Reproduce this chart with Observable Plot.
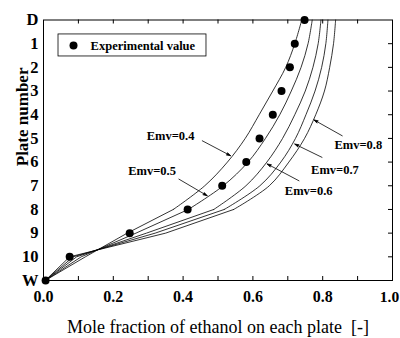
<!DOCTYPE html>
<html><head><meta charset="utf-8">
<script src="https://cdn.jsdelivr.net/npm/d3@7"></script>
<script src="https://cdn.jsdelivr.net/npm/@observablehq/plot@0.6"></script>
<style>body{margin:0;background:#fff}</style>
</head><body><div id="chart"></div>
<script>
// Plates from top (D = distillate) to bottom (W = still)
const plateLabels = ["D","1","2","3","4","5","6","7","8","9","10","W"];
const xTicks = [0, 0.2, 0.4, 0.6, 0.8];
const xLastTick = [1.0];
const xMinorTicks = [0.1,0.2,0.3,0.4,0.5,0.6,0.7,0.8,0.9];
// Experimental mole fraction of ethanol on each plate
const expX = [0.748, 0.72, 0.706, 0.682, 0.657, 0.619, 0.581, 0.512, 0.413, 0.247, 0.075, 0.006];
// Calculated profiles for each Murphree efficiency
const emvValues = [0.4, 0.5, 0.6, 0.7, 0.8];
const emv04 = [0.74, 0.72, 0.694, 0.657, 0.618, 0.578, 0.527, 0.462, 0.372, 0.24, 0.12, 0.005];
const emv05 = [0.77, 0.758, 0.738, 0.71, 0.677, 0.636, 0.586, 0.515, 0.415, 0.265, 0.108, 0.005];
const emv06 = [0.795, 0.787, 0.772, 0.75, 0.72, 0.685, 0.64, 0.58, 0.488, 0.295, 0.095, 0.005];
const emv07 = [0.815, 0.809, 0.797, 0.778, 0.752, 0.722, 0.68, 0.62, 0.518, 0.32, 0.085, 0.005];
const emv08 = [0.837, 0.831, 0.82, 0.805, 0.78, 0.748, 0.703, 0.647, 0.545, 0.35, 0.075, 0.005];
const emvSeries = [emv04, emv05, emv06, emv07, emv08];
// Annotations
const annLabels = ["Emv=0.4","Emv=0.5","Emv=0.6","Emv=0.7","Emv=0.8"];
const annX = [0.364, 0.311, 0.760, 0.835, 0.902];
const annY = [4.89, 6.37, 7.24, 6.34, 5.27];
const arrX1 = [0.455, 0.388, 0.732, 0.798, 0.856];
const arrY1 = [5.10, 6.72, 6.79, 5.80, 4.89];
const arrX2 = [0.536, 0.469, 0.641, 0.720, 0.775];
const arrY2 = [5.73, 7.42, 6.08, 5.24, 4.22];
const legendLabel = "Experimental value";
const xTitle = "Mole fraction of ethanol on each plate\u00a0 [-]";
const yTitle = "Plate number";

const curves = emvValues.flatMap((e, k) => emvSeries[k].map((x, i) => ({emv: e, x, y: i})));
const points = expX.map((x, i) => ({x, y: i}));
const anns = annLabels.map((t, i) => ({t, x: annX[i], y: annY[i], x1: arrX1[i], y1: arrY1[i], x2: arrX2[i], y2: arrY2[i]}));

const W = 400, H = 338, mL = 43, mR = 8, mT = 19.5, mB = 58;
const innerW = W - mL - mR, innerH = H - mT - mB;
const font = "'Liberation Serif', 'Times New Roman', serif";

const chart = Plot.plot({
  width: W, height: H,
  marginLeft: mL, marginRight: mR, marginTop: mT, marginBottom: mB,
  style: {fontFamily: font, background: "white", color: "black"},
  x: {domain: [0, 1]},
  y: {domain: [0, 11], reverse: true},
  marks: [
    Plot.frame({stroke: "black", strokeWidth: 1}),
    Plot.tickX(xMinorTicks, {x: d => d, insetTop: innerH - 4, stroke: "black"}),
    Plot.tickX(xMinorTicks, {x: d => d, insetBottom: innerH - 4, stroke: "black"}),
    Plot.tickY(d3.range(1, 11), {y: d => d, insetLeft: innerW - 4, stroke: "black"}),
    Plot.axisX({ticks: xTicks, tickFormat: d3.format(".1f"), tickSize: 0, tickPadding: 10, fontSize: 16, fontWeight: "bold", label: null}),
    Plot.axisX({ticks: xLastTick, tickFormat: d3.format(".1f"), tickSize: 0, tickPadding: 10, fontSize: 15.5, fontWeight: "bold", dx: -3, label: null}),
    Plot.axisY({ticks: d3.range(12), tickFormat: i => plateLabels[i], tickSize: 0, tickPadding: 5, fontSize: 16.5, fontWeight: "bold", label: null}),
    Plot.text([yTitle], {frameAnchor: "left", rotate: -90, dx: -21, dy: 16, fontSize: 17, fontWeight: "bold"}),
    Plot.text([xTitle], {frameAnchor: "bottom", dy: 52, fontSize: 18}),
    Plot.line(curves.filter(d => d.y <= 8), {x: "x", y: "y", z: "emv", stroke: "black", strokeWidth: 0.8, curve: "catmull-rom"}),
    Plot.line(curves.filter(d => d.y >= 8), {x: "x", y: "y", z: "emv", stroke: "black", strokeWidth: 0.8}),
    Plot.dot(points, {x: "x", y: "y", r: 4, fill: "black"}),
    Plot.arrow(anns, {x1: "x1", y1: "y1", x2: "x2", y2: "y2", stroke: "black", fill: "black", strokeWidth: 0.8, headLength: 8, headAngle: 35}),
    Plot.text(anns, {x: "x", y: "y", text: "t", fontSize: 12.5, fontWeight: "bold"}),
    // legend box
    Plot.rect([{x1: 0.043, x2: 0.467, y1: 0.61, y2: 1.54}], {x1: "x1", x2: "x2", y1: "y1", y2: "y2", fill: "white", stroke: "black", strokeWidth: 0.8}),
    Plot.dot([{x: 0.086, y: 1.08}], {x: "x", y: "y", r: 4, fill: "black"}),
    Plot.text([legendLabel], {x: () => 0.135, y: () => 1.08, textAnchor: "start", fontSize: 12.5, fontWeight: "bold"})
  ]
});
document.getElementById("chart").appendChild(chart);
</script>
</body></html>
